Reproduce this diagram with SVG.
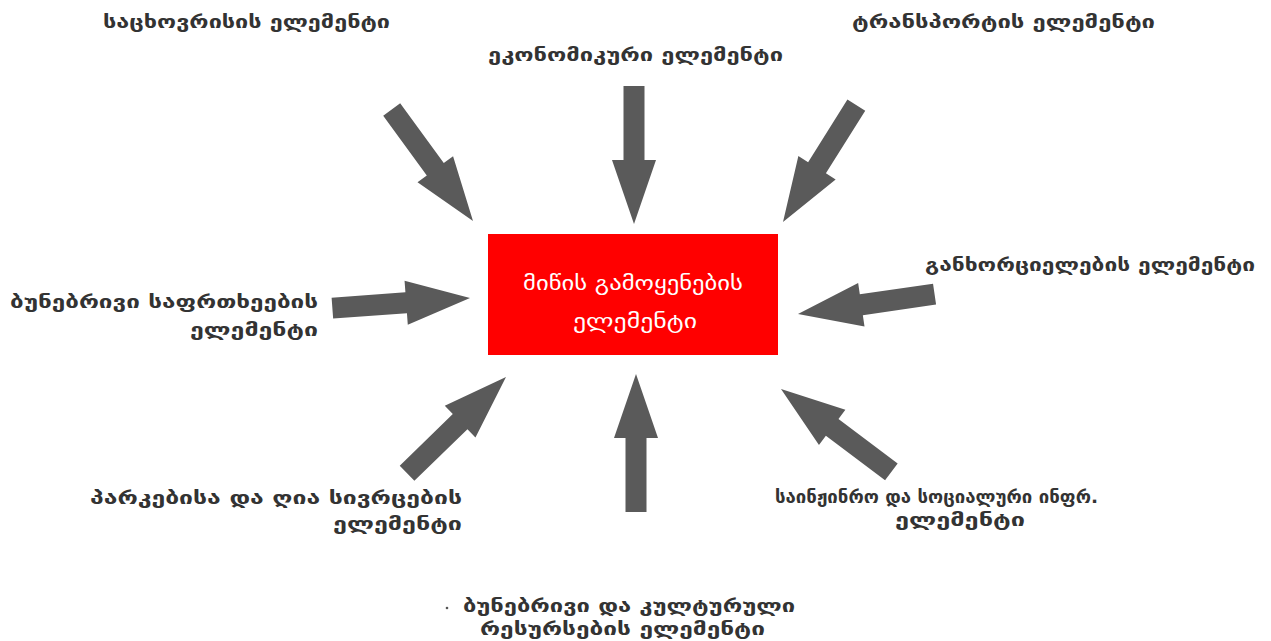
<svg xmlns="http://www.w3.org/2000/svg" xmlns:xlink="http://www.w3.org/1999/xlink" width="1271" height="641" viewBox="0 0 1271 641">
<style>
.lbl{font-family:"DejaVu Sans","Noto Sans",sans-serif;font-size:18px;font-weight:bold;fill:#333333;}
.ctr{font-family:"DejaVu Sans","Noto Sans",sans-serif;font-size:20px;fill:#ffffff;}
.arr{fill:#5a5a5a;}
</style>
<defs>
<path id="arrow" d="M-138,-10.5 L-64,-10.5 L-64,-22 L0,0 L-64,22 L-64,10.5 L-138,10.5 Z"/>
</defs>
<rect width="1271" height="641" fill="#ffffff"/>
<g id="connectors" class="arr">
<use xlink:href="#arrow" transform="translate(473,221) rotate(53.9)"/>
<use xlink:href="#arrow" transform="translate(634,224) rotate(90)"/>
<use xlink:href="#arrow" transform="translate(783,222) rotate(122.1)"/>
<use xlink:href="#arrow" transform="translate(470,298) rotate(-4.2)"/>
<use xlink:href="#arrow" transform="translate(798,314) rotate(171.7)"/>
<use xlink:href="#arrow" transform="translate(506,377) rotate(-44.2)"/>
<use xlink:href="#arrow" transform="translate(636,374) rotate(-90)"/>
<use xlink:href="#arrow" transform="translate(781,389) rotate(216.9)"/>
</g>
<g id="center">
<rect x="488" y="234" width="290" height="121" fill="#ff0000"/>
<text class="ctr" x="523" y="290" textLength="220" lengthAdjust="spacingAndGlyphs">მიწის გამოყენების</text>
<text class="ctr" x="573" y="328" textLength="124" lengthAdjust="spacingAndGlyphs">ელემენტი</text>
</g>
<g id="n-housing">
<text class="lbl" x="103" y="28" textLength="287" lengthAdjust="spacingAndGlyphs">საცხოვრისის ელემენტი</text>
</g>
<g id="n-economic">
<text class="lbl" x="488" y="61" textLength="295" lengthAdjust="spacingAndGlyphs">ეკონომიკური ელემენტი</text>
</g>
<g id="n-transport">
<text class="lbl" x="852" y="28" textLength="303" lengthAdjust="spacingAndGlyphs">ტრანსპორტის ელემენტი</text>
</g>
<g id="n-hazards">
<text class="lbl" x="10" y="308" textLength="308" lengthAdjust="spacingAndGlyphs">ბუნებრივი საფრთხეების</text>
<text class="lbl" x="190" y="336" textLength="128" lengthAdjust="spacingAndGlyphs">ელემენტი</text>
</g>
<g id="n-implementation">
<text class="lbl" x="925" y="271" textLength="330" lengthAdjust="spacingAndGlyphs">განხორციელების ელემენტი</text>
</g>
<g id="n-parks">
<text class="lbl" x="90" y="504" textLength="372" lengthAdjust="spacingAndGlyphs">პარკებისა და ღია სივრცების</text>
<text class="lbl" x="333" y="530" textLength="129" lengthAdjust="spacingAndGlyphs">ელემენტი</text>
</g>
<g id="n-infra">
<text class="lbl" x="775" y="503" textLength="323" lengthAdjust="spacingAndGlyphs">საინჟინრო და სოციალური ინფრ.</text>
<text class="lbl" x="895" y="526" textLength="130" lengthAdjust="spacingAndGlyphs">ელემენტი</text>
</g>
<g id="n-resources">
<circle cx="447" cy="608" r="1.3" fill="#555"/>
<text class="lbl" x="463" y="612" textLength="332" lengthAdjust="spacingAndGlyphs">ბუნებრივი და კულტურული</text>
<text class="lbl" x="480" y="635" textLength="285" lengthAdjust="spacingAndGlyphs">რესურსების ელემენტი</text>
</g>
</svg>
